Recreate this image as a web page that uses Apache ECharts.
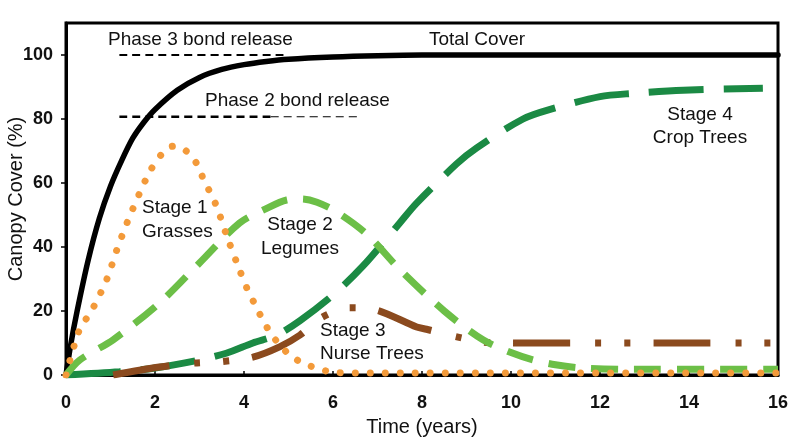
<!DOCTYPE html>
<html>
<head>
<meta charset="utf-8">
<title>Canopy Cover</title>
<script src="https://cdn.jsdelivr.net/npm/echarts@6/dist/echarts.min.js"></script>
<style>
  html, body { margin: 0; padding: 0; background: #fff; }
  #chart { width: 800px; height: 444px; }
</style>
</head>
<body>
<div id="chart"></div>
<script>
// values, [time (years), canopy cover (%)]
var totalCover = [[0,0],[0.1,9],[0.25,20],[0.5,36],[0.75,49],[1,59],[1.25,67],[1.5,74],[1.75,79],[2,83],[2.5,89],[3,93],[3.5,95.5],[4,97],[4.5,98],[5,98.7],[6,99.4],[7,99.8],[8,100],[16,100]];
var grasses = [[0,0],[0.27,13],[0.43,17],[0.61,21],[0.92,30],[1.14,39],[1.37,47.5],[1.66,57],[1.9,64],[2.15,69],[2.41,71.5],[2.7,70],[2.94,66],[3.08,61.5],[3.24,57],[3.39,52.5],[3.6,44],[3.84,35],[4.1,26],[4.25,22],[4.43,17],[4.58,13.5],[4.8,9.4],[5.03,6.3],[5.33,3.6],[5.64,2.2],[5.93,1],[6.5,0.6],[16,0.6]];
var legumes = [[0,0],[0.31,4.7],[1.06,11],[2.1,22.5],[3,35],[3.9,47.5],[4.5,52],[4.96,54.7],[5.3,55],[5.64,54],[6.08,51],[6.76,44],[7.5,33],[8.5,20],[9.37,11],[10,7],[10.5,4.7],[11,3.2],[11.6,2.2],[12.7,1.8],[16,1.8]];
var nurseTrees = [[1.06,0],[2.1,2.5],[2.86,3.7],[3.5,4.2],[4.2,5.6],[4.8,8.8],[5.26,12.5],[5.75,18],[6.38,21],[6.98,20.3],[7.88,15],[8.1,14.3],[8.75,12],[9.37,10.3],[9.8,10],[16,10]];
var cropTrees = [[0,0],[1.2,1],[2,2.2],[3,4.7],[3.6,6.8],[4.2,10],[4.74,12.5],[5.26,17],[6,25],[6.67,34],[7.5,47.5],[7.88,53.7],[8.78,66],[9.23,71],[10.27,80],[10.88,83],[12,87],[12.74,88],[13.87,89],[15.66,89.6]];
var phase3 = [[1.2,100],[4.9,100]];
var phase2Thick = [[1.2,80.7],[4.6,80.7]];
var phase2Thin = [[4.6,80.7],[6.55,80.7]];

var xTicks = { min: 0, max: 16, step: 2 };
var yTicks = { min: 0, max: 110, step: 20 };

var font = '"Liberation Sans", Arial, sans-serif';

var mychart = echarts.init(document.getElementById('chart'));

function line(data, color, width, dash, cap, z) {
    return {
        type: 'line',
        data: data,
        showSymbol: false,
        symbol: 'none',
        smooth: 0.3,
        z: z,
        lineStyle: { color: color, width: width, type: dash, cap: cap || 'butt' },
        animation: false
    };
}

// one text line, centred on (x, y) or left-aligned at x
function label(text, x, y, align) {
    return {
        type: 'text',
        x: x, y: y, z: 100,
        style: {
            text: text, font: '19px ' + font, fill: '#111',
            align: align || 'left', verticalAlign: 'middle'
        }
    };
}

var option = {
    animation: false,
    grid: {
        left: 66, right: 22, top: 23, bottom: 69,
        outerBoundsMode: 'none',
        containLabel: false,
        show: true, borderColor: '#000', borderWidth: 3, backgroundColor: 'transparent'
    },
    xAxis: {
        type: 'value',
        min: xTicks.min, max: xTicks.max, interval: xTicks.step,
        name: 'Time (years)', nameLocation: 'middle', nameGap: 42,
        nameMoveOverlap: false,
        nameTextStyle: { fontFamily: font, fontSize: 20, color: '#111' },
        axisLine: { lineStyle: { color: '#000', width: 3 } },
        axisTick: { inside: true, length: 4, lineStyle: { color: '#000', width: 1.5 } },
        axisLabel: { fontFamily: font, fontSize: 18, fontWeight: 'bold', color: '#111', margin: 19 },
        splitLine: { show: false }
    },
    yAxis: {
        type: 'value',
        min: yTicks.min, max: yTicks.max, interval: yTicks.step,
        name: 'Canopy Cover (%)', nameLocation: 'middle', nameGap: 40,
        nameMoveOverlap: false,
        nameTextStyle: { fontFamily: font, fontSize: 20, color: '#111' },
        axisLine: { show: true, lineStyle: { color: '#000', width: 3 } },
        axisTick: { show: true, length: 5, lineStyle: { color: '#000', width: 1.5 } },
        axisLabel: { fontFamily: font, fontSize: 18, fontWeight: 'bold', color: '#111', margin: 13, showMaxLabel: false },
        splitLine: { show: false }
    },
    series: [
        line(phase3, '#000', 2, [8, 5], 'butt', 2),
        line(phase2Thick, '#000', 2.5, [8, 5], 'butt', 2),
        line(phase2Thin, '#000', 1.2, [8, 5], 'butt', 2),
        line(totalCover, '#000', 5.5, 'solid', 'round', 3),
        line(cropTrees, '#1b8a44', 7, [55, 20], 'butt', 4),
        line(nurseTrees, '#8b4a1e', 7, [57, 25, 6, 23, 6, 23], 'butt', 5),
        line(legumes, '#6cbf47', 7, [27, 16], 'butt', 6),
        line(grasses, '#f39a3a', 7, [0.01, 15], 'round', 7)
    ],
    graphic: [
        label('Phase 3 bond release', 108, 40),
        label('Total Cover', 477, 40, 'center'),
        label('Phase 2 bond release', 205, 101),
        label('Stage 1', 142, 208),
        label('Grasses', 142, 232),
        label('Stage 2', 300, 225, 'center'),
        label('Legumes', 300, 249, 'center'),
        label('Stage 3', 320, 331),
        label('Nurse Trees', 320, 354),
        label('Stage 4', 700, 115, 'center'),
        label('Crop Trees', 700, 138, 'center')
    ]
};
mychart.setOption(option);
</script>
</body>
</html>
